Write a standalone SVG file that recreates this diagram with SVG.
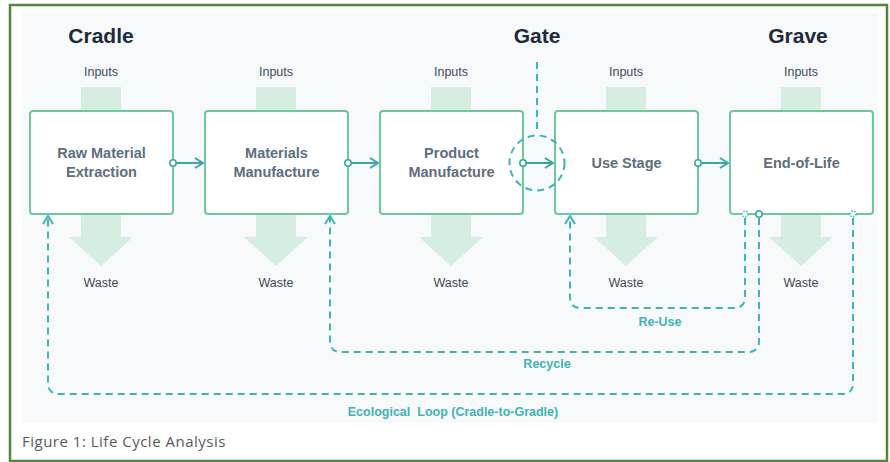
<svg xmlns="http://www.w3.org/2000/svg" width="890" height="462" viewBox="0 0 890 462">
  <defs>
    <style>
      .frame { fill: #ffffff; stroke: #55843f; stroke-width: 2.5; }
      .panel { fill: #f7f9fb; }
      .flow { fill: #d6eee2; }
      .box { fill: #ffffff; stroke: #6cc99c; stroke-width: 2; }
      .head { font-family: "Liberation Sans", Arial, sans-serif; font-weight: bold; font-size: 21px; fill: #1d2a3a; text-anchor: middle; }
      .io { font-family: "Liberation Sans", Arial, sans-serif; font-size: 12.5px; fill: #3e4b5a; text-anchor: middle; }
      .lbl { font-family: "Liberation Sans", Arial, sans-serif; font-weight: bold; font-size: 14.5px; fill: #5d6e7e; text-anchor: middle; }
      .loop-lbl { font-family: "Liberation Sans", Arial, sans-serif; font-weight: bold; font-size: 12.5px; fill: #40b3b3; text-anchor: middle; }
      .caption { font-family: "Open Sans", "Liberation Sans", sans-serif; font-size: 15px; letter-spacing: 0.5px; fill: #555a5e; }
      .link { fill: none; stroke: #3aa7a2; stroke-width: 2; }
      .dash { fill: none; stroke: #3db5b5; stroke-width: 2; stroke-dasharray: 7 5; }
      .dot { fill: #ffffff; stroke: #3aa7a2; stroke-width: 1.6; }
      .dot-dash { fill: #ffffff; stroke: #3db5b5; stroke-width: 1.4; stroke-dasharray: 1.5 1.5; }
    </style>
    <marker id="chev" viewBox="0 0 10 12" refX="9" refY="6" markerWidth="10" markerHeight="12" markerUnits="userSpaceOnUse" orient="auto">
      <path d="M1,1 L9,6 L1,11" fill="none" stroke="#3aa7a2" stroke-width="2"/>
    </marker>
    <marker id="chev-loop" viewBox="0 0 10 12" refX="9" refY="6" markerWidth="10" markerHeight="12" markerUnits="userSpaceOnUse" orient="auto">
      <path d="M1,1 L9,6 L1,11" fill="none" stroke="#3db5b5" stroke-width="2"/>
    </marker>
    <!-- input shaft + waste arrow, drawn relative to box left edge -->
    <g id="io-flow">
      <rect class="flow" x="51" y="87" width="40" height="25"/>
      <path class="flow" d="M51,213 H91 V237 H103 L71,266 L39,237 H51 Z"/>
    </g>
  </defs>

  <!-- frame and panel -->
  <rect class="frame" x="10" y="5" width="877" height="456"/>
  <rect class="panel" x="22" y="13" width="856" height="410"/>

  <!-- stage headings -->
  <text class="head" x="101" y="43">Cradle</text>
  <text class="head" x="537" y="43">Gate</text>
  <text class="head" x="798" y="43">Grave</text>

  <!-- inputs / waste flows -->
  <use href="#io-flow" x="30"/>
  <use href="#io-flow" x="205"/>
  <use href="#io-flow" x="380"/>
  <use href="#io-flow" x="555"/>
  <use href="#io-flow" x="730"/>

  <g class="io">
    <text x="101" y="76">Inputs</text>
    <text x="276" y="76">Inputs</text>
    <text x="451" y="76">Inputs</text>
    <text x="626" y="76">Inputs</text>
    <text x="801" y="76">Inputs</text>
    <text x="101" y="287">Waste</text>
    <text x="276" y="287">Waste</text>
    <text x="451" y="287">Waste</text>
    <text x="626" y="287">Waste</text>
    <text x="801" y="287">Waste</text>
  </g>

  <!-- stage nodes -->
  <g id="raw-material-extraction">
    <rect class="box" x="30" y="111" width="143" height="103" rx="3"/>
    <text class="lbl" x="101.5" y="158">Raw Material</text>
    <text class="lbl" x="101.5" y="177">Extraction</text>
  </g>
  <g id="materials-manufacture">
    <rect class="box" x="205" y="111" width="143" height="103" rx="3"/>
    <text class="lbl" x="276.5" y="158">Materials</text>
    <text class="lbl" x="276.5" y="177">Manufacture</text>
  </g>
  <g id="product-manufacture">
    <rect class="box" x="380" y="111" width="143" height="103" rx="3"/>
    <text class="lbl" x="451.5" y="158">Product</text>
    <text class="lbl" x="451.5" y="177">Manufacture</text>
  </g>
  <g id="use-stage">
    <rect class="box" x="555" y="111" width="143" height="103" rx="3"/>
    <text class="lbl" x="626.5" y="168">Use Stage</text>
  </g>
  <g id="end-of-life">
    <rect class="box" x="730" y="111" width="143" height="103" rx="3"/>
    <text class="lbl" x="801.5" y="168">End-of-Life</text>
  </g>

  <!-- connectors -->
  <g id="connectors">
    <!-- forward flow -->
    <path class="link" d="M176,163 H203" marker-end="url(#chev)"/>
    <path class="link" d="M351,163 H378" marker-end="url(#chev)"/>
    <path class="link" d="M526,163 H553" marker-end="url(#chev)"/>
    <path class="link" d="M701,163 H728" marker-end="url(#chev)"/>
    <circle class="dot" cx="173" cy="163" r="3.2"/>
    <circle class="dot" cx="348" cy="163" r="3.2"/>
    <circle class="dot" cx="523" cy="163" r="3.2"/>
    <circle class="dot" cx="698" cy="163" r="3.2"/>

    <!-- gate marker -->
    <path class="dash" d="M537,62 V134"/>
    <circle class="dash" cx="537" cy="163" r="27.5"/>

    <!-- return loops -->
    <path class="dash" d="M745,218 V297 Q745,308 734,308 H581 Q570,308 570,297 V216" marker-end="url(#chev-loop)"/>
    <path class="dash" d="M759,218 V341 Q759,352 748,352 H341 Q330,352 330,341 V216" marker-end="url(#chev-loop)"/>
    <path class="dash" d="M853,218 V383 Q853,394 842,394 H59 Q48,394 48,383 V216" marker-end="url(#chev-loop)"/>
    <circle class="dot-dash" cx="745" cy="214" r="3"/>
    <circle class="dot" cx="759" cy="214" r="3.2"/>
    <circle class="dot-dash" cx="853" cy="214" r="3"/>
  </g>

  <!-- loop labels -->
  <text class="loop-lbl" x="660" y="326">Re-Use</text>
  <text class="loop-lbl" x="547" y="368">Recycle</text>
  <text class="loop-lbl" x="453" y="416" xml:space="preserve">Ecological  Loop (Cradle-to-Gradle)</text>

  <!-- caption -->
  <text class="caption" x="22" y="447">Figure 1: Life Cycle Analysis</text>
</svg>
